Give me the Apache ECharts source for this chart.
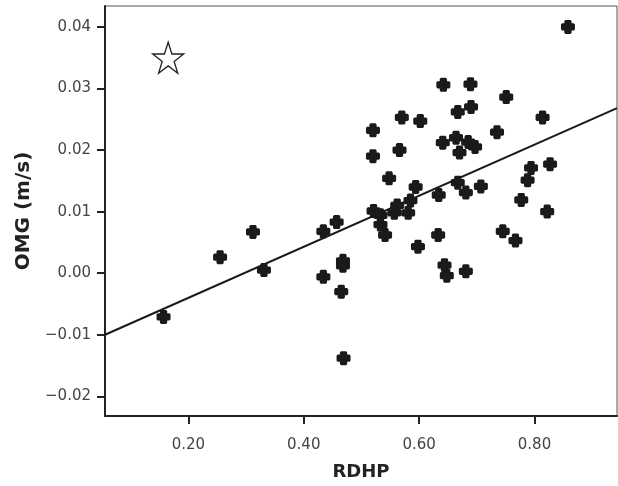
<!DOCTYPE html>
<html>
<head>
<meta charset="utf-8">
<script src="https://cdn.jsdelivr.net/npm/echarts@6/dist/echarts.min.js"></script>
<style>html,body{margin:0;padding:0;background:#fff}#c{width:618px;height:486px}</style>
</head>
<body>
<div id="c"></div>
<script>
var rdhp = [0.157,0.255,0.312,0.331,0.434,0.457,0.434,0.468,0.468,0.465,0.469,
  0.520,0.520,0.521,0.533,0.533,0.541,0.548,0.562,0.557,0.570,0.566,0.581,0.585,0.594,0.598,0.602,
  0.633,0.634,0.641,0.642,0.644,0.648,0.664,0.667,0.667,0.670,0.681,0.681,0.685,0.690,0.689,0.697,0.707,
  0.735,0.745,0.751,0.767,0.777,0.788,0.794,0.814,0.822,0.827,0.858];
var omg = [-0.0071,0.0026,0.0067,0.0005,0.0068,0.0083,-0.0006,0.0020,0.0012,-0.0030,-0.0138,
  0.0232,0.0190,0.0101,0.0094,0.0079,0.0062,0.0154,0.0110,0.0098,0.0253,0.0200,0.0098,0.0118,0.0140,0.0043,0.0247,
  0.0062,0.0127,0.0212,0.0306,0.0013,-0.0004,0.0220,0.0262,0.0147,0.0196,0.0131,0.0003,0.0213,0.0270,0.0307,0.0205,0.0141,
  0.0229,0.0068,0.0286,0.0053,0.0119,0.0151,0.0171,0.0253,0.0100,0.0177,0.0400];
var fitX = [0.0555, 0.943];
var fitY = [-0.0100, 0.0268];
var starX = [0.165];
var starY = [0.035];
var xTicks = [0.2, 0.4, 0.6, 0.8];
var yTicks = [-0.02, -0.01, 0, 0.01, 0.02, 0.03, 0.04];

var plus = 'path://M3.2,0 H6.8 L7.6,0.8 V2.4 H9.2 L10,3.2 V6.8 L9.2,7.6 H7.6 V9.2 L6.8,10 H3.2 L2.4,9.2 V7.6 H0.8 L0,6.8 V3.2 L0.8,2.4 H2.4 V0.8 Z';
var star = 'path://M50,0 L61.8,35.3 L99,35.3 L68.9,57.4 L80.3,92.7 L50,70.9 L19.7,92.7 L31.1,57.4 L1,35.3 L38.2,35.3 Z';

var chart = echarts.init(document.getElementById('c'));
var lab = "'DejaVu Sans', sans-serif";
var tit = "'DejaVu Sans', sans-serif";
chart.setOption({
  animation: false,
  grid: {left: 105, right: 1, top: 6, bottom: 69, show: true, borderColor: '#555', borderWidth: 1},
  xAxis: {
    type: 'value', min: 0.0555, max: 0.943,
    name: 'RDHP', nameLocation: 'middle', nameGap: 47,
    nameTextStyle: {fontFamily: tit, fontSize: 18, fontWeight: 'bold', color: '#222'},
    axisLine: {show: true, onZero: false, lineStyle: {color: '#222', width: 2}},
    axisTick: {show: true, length: 8, lineStyle: {color: '#222', width: 2}, customValues: xTicks},
    axisLabel: {customValues: xTicks, fontFamily: lab, fontSize: 15, color: '#444', margin: 22,
      formatter: function (v) { return v.toFixed(2); }},
    splitLine: {show: false}
  },
  yAxis: {
    type: 'value', min: -0.0232, max: 0.0434,
    name: 'OMG (m/s)', nameLocation: 'middle', nameGap: 66, nameRotate: 90,
    nameTextStyle: {fontFamily: tit, fontSize: 20, fontWeight: 'bold', color: '#222'},
    axisLine: {show: true, onZero: false, lineStyle: {color: '#222', width: 2}},
    axisTick: {show: true, length: 8, lineStyle: {color: '#222', width: 2}, customValues: yTicks},
    axisLabel: {customValues: yTicks, fontFamily: lab, fontSize: 15, color: '#444', margin: 14,
      formatter: function (v) { var s = Math.abs(v).toFixed(2); return (v < -1e-9 ? '\u2212' : '') + s; }},
    splitLine: {show: false}
  },
  series: [
    {
      type: 'line', data: fitX.map(function (x, i) { return [x, fitY[i]]; }),
      symbol: 'none', lineStyle: {color: '#1a1a1a', width: 2}, z: 2
    },
    {
      type: 'scatter', data: rdhp.map(function (x, i) { return [x, omg[i]]; }),
      symbol: plus, symbolSize: 14, itemStyle: {color: '#1a1a1a', opacity: 1}, z: 3
    },
    {
      type: 'scatter', data: starX.map(function (x, i) { return [x, starY[i]]; }),
      symbol: star, symbolSize: 31,
      itemStyle: {color: '#fff', borderColor: '#222', borderWidth: 1.3, opacity: 1}, z: 3
    }
  ]
});
</script>
</body>
</html>
